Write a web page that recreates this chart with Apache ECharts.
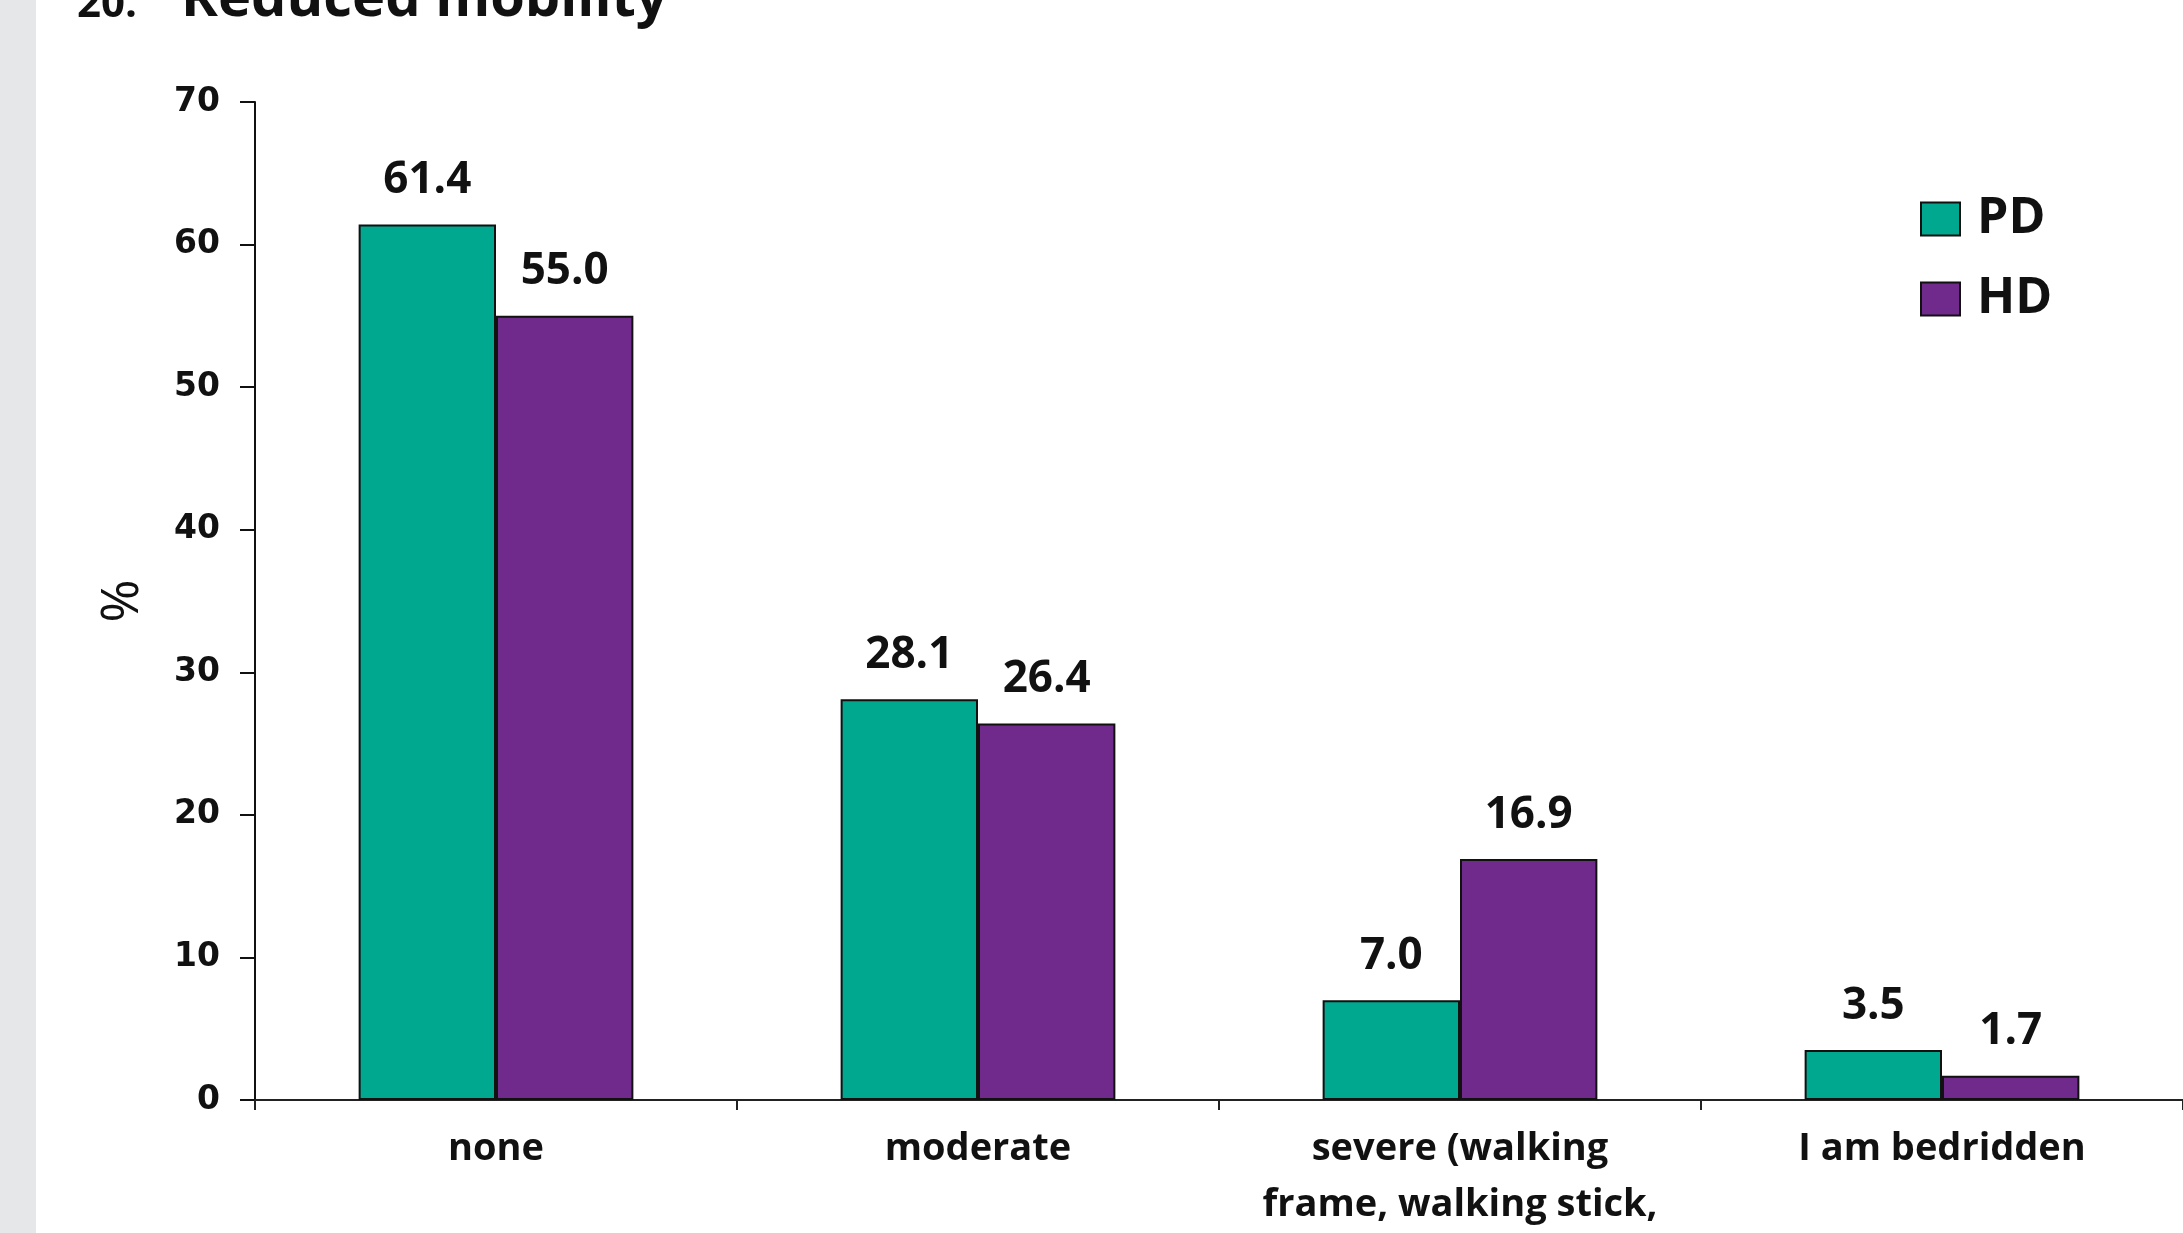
<!DOCTYPE html>
<html>
<head>
<meta charset="utf-8">
<script src="https://cdn.jsdelivr.net/npm/echarts@6/dist/echarts.min.js"></script>
<style>
html,body{margin:0;padding:0;background:#fff;}
#chart{width:2183px;height:1233px;}
</style>
</head>
<body>
<div id="chart"></div>
<script>
const categories = ['none', 'moderate', 'severe (walking\nframe, walking stick,', 'I am bedridden'];
const seriesNames = ['PD', 'HD'];
const pdValues = [61.4, 28.1, 7.0, 3.5];
const hdValues = [55.0, 26.4, 16.9, 1.7];
const yTicks = [0, 10, 20, 30, 40, 50, 60, 70];
const titleNumber = '20.';
const titleText = 'Reduced mobility';
const yAxisName = '%';

const chart = echarts.init(document.getElementById('chart'));
const labelStyle = {
  show: true, position: 'top', distance: 22,
  fontFamily: 'Open Sans', fontWeight: 'bold', fontSize: 44, color: '#111',
  formatter: p => p.value.toFixed(1)
};
chart.setOption({
  backgroundColor: '#fff',
  animation: false,
  title: [
    { text: titleNumber, left: 77, top: -16, padding: 0,
      textStyle: { fontFamily: 'Open Sans', fontWeight: 'bold', fontSize: 42, color: '#111' } },
    { text: titleText, left: 181, top: -28, padding: 0,
      textStyle: { fontFamily: 'Open Sans', fontWeight: 'bold', fontSize: 56, color: '#111' } }
  ],
  graphic: [{
    type: 'rect', left: 0, top: 0, shape: { width: 36, height: 1233 },
    style: { fill: '#e6e7e9' }, z: -1
  }],
  legend: {
    orient: 'vertical', left: 1920, top: 194, padding: 0, itemGap: 30,
    icon: 'rect',
    itemWidth: 39, itemHeight: 33, itemStyle: { borderColor: '#111', borderWidth: 2 },
    textStyle: { fontFamily: 'Open Sans', fontWeight: 'bold', fontSize: 50, lineHeight: 50, color: '#111', padding: [0, 0, 0, 12] },
    data: seriesNames
  },
  grid: { left: 255, right: -8, top: 102, bottom: 130, containLabel: false },
  xAxis: {
    type: 'category', data: categories,
    axisLine: { lineStyle: { color: '#222', width: 2 } },
    axisTick: { show: true, length: 10, lineStyle: { color: '#222', width: 2 } },
    axisLabel: { margin: 21, fontFamily: 'Open Sans', fontWeight: 'bold', fontSize: 38, lineHeight: 56, color: '#111', interval: 0 }
  },
  yAxis: {
    type: 'value', min: 0, max: 70, interval: 10,
    name: yAxisName, nameLocation: 'middle', nameRotate: 90, nameGap: 106,
    nameTextStyle: { fontFamily: 'Open Sans', fontSize: 52, color: '#111' },
    axisLine: { show: true, lineStyle: { color: '#111', width: 2 } },
    axisTick: { show: true, length: 15, lineStyle: { color: '#111', width: 2 } },
    axisLabel: { margin: 35, fontFamily: 'DejaVu Sans', fontWeight: 'bold', fontSize: 33, color: '#111',
      formatter: v => yTicks.includes(v) ? String(v) : '' },
    splitLine: { show: false }
  },
  series: [
    { name: seriesNames[0], type: 'bar', data: pdValues, barGap: '0%', barCategoryGap: '43%',
      itemStyle: { color: '#00A88F', borderColor: '#111', borderWidth: 2 }, label: labelStyle },
    { name: seriesNames[1], type: 'bar', data: hdValues, barGap: '0%', barCategoryGap: '43%',
      itemStyle: { color: '#702A8C', borderColor: '#111', borderWidth: 2 }, label: labelStyle }
  ]
});
</script>
</body>
</html>
